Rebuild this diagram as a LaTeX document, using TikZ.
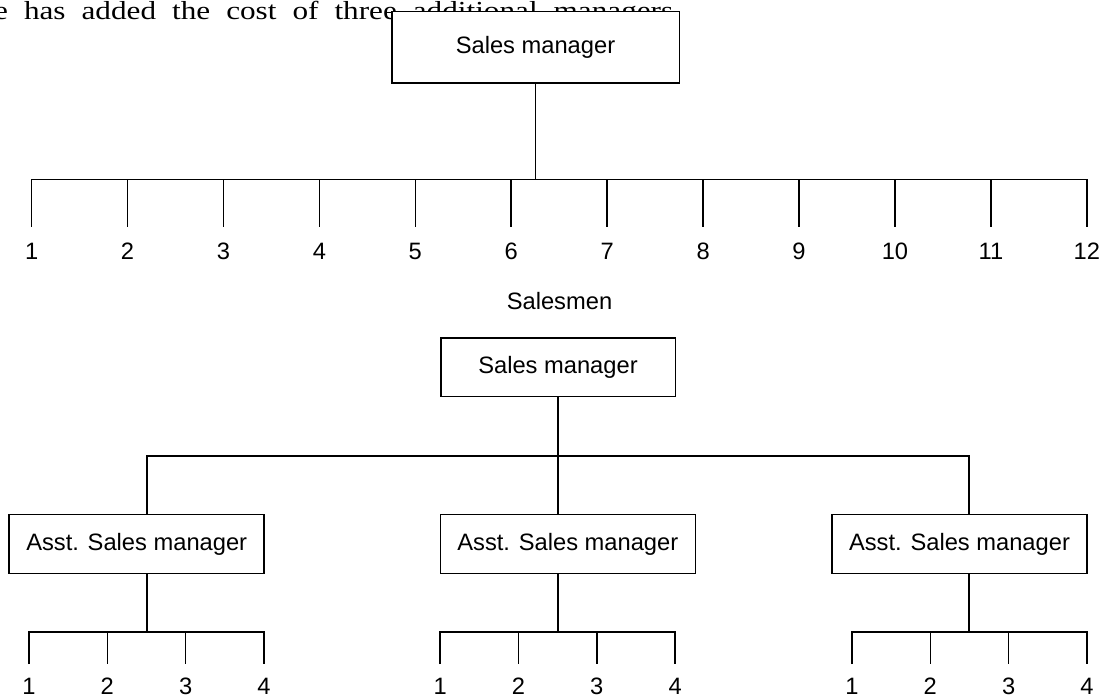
\documentclass[tikz,border=0pt]{standalone}
\usepackage{fontspec}
\setmainfont{Liberation Sans}
\newfontfamily\bodyserif[FakeStretch=1.2]{Liberation Serif}
\begin{document}
\begin{tikzpicture}[x=1pt,y=-1pt, line width=1.6pt,
  box/.style={draw, fill=white, inner sep=0pt, font=\fontsize{23.7}{28}\selectfont},
  num/.style={anchor=base, inner sep=0pt, font=\fontsize{23.7}{28}\selectfont},
  para/.style={anchor=base west, inner sep=0pt, font=\bodyserif\fontsize{26}{30}\selectfont}]
\useasboundingbox (0,0) rectangle (1102,698);
% partial text of the page behind the chart
\node[para] (paratext) at (-6.6,19.5) {\spaceskip=16pt e has added the cost of three additional managers};
% ---------- first chart ----------
\node[box, minimum width=287.6pt, minimum height=71.6pt] (sm1) at (535.5,47.5) {Sales manager};
\foreach \i in {1,...,12}{
  \pgfmathsetmacro\xx{31.6+95.93*(\i-1)}
  \coordinate (t\i) at (\xx,179.3);
  \coordinate (b\i) at (\xx,226.7);
  \node[num] (n\i) at (\xx,259) {\i};
}
\draw (b1) -- (t1) -- (t12) -- (b12);
\foreach \i in {2,...,11}{ \draw (t\i) -- (b\i); }
\draw (sm1.south) -- (sm1.south |- t1);
\node[num] (salesmen) at (559.5,309) {Salesmen};
% ---------- second chart ----------
\node[box, minimum width=234.6pt, minimum height=58.6pt] (sm2) at (558,367) {Sales manager};
\node[box, minimum width=255pt, minimum height=58.8pt] (a1) at (136.7,544) {Asst. Sales manager};
\node[box, minimum width=255pt, minimum height=58.8pt] (a2) at (567.8,544) {Asst. Sales manager};
\node[box, minimum width=255pt, minimum height=58.8pt] (a3) at (959.5,544) {Asst. Sales manager};
\coordinate (c1) at (146.7,456);
\coordinate (c3) at (968.9,456);
\draw (sm2.south) -- (a2.north -| sm2.south);
\draw (a1.north -| c1) -- (c1) -- (c3) -- (a3.north -| c3);
% sub groups
\foreach \g/\s/\v in {1/29/146.7, 2/440.2/557.7, 3/852/968.9}{
  \foreach \i in {1,...,4}{
    \pgfmathsetmacro\xx{\s+78.3*(\i-1)}
    \coordinate (g\g t\i) at (\xx,632);
    \coordinate (g\g b\i) at (\xx,664);
    \node[num] (g\g n\i) at (\xx,694) {\i};
  }
  \coordinate (g\g v) at (\v,632);
  \draw (a\g.south -| g\g v) -- (g\g v);
  \draw (g\g b1) -- (g\g t1) -- (g\g t4) -- (g\g b4);
  \draw (g\g t2) -- (g\g b2);
  \draw (g\g t3) -- (g\g b3);
}
\end{tikzpicture}
\end{document}
